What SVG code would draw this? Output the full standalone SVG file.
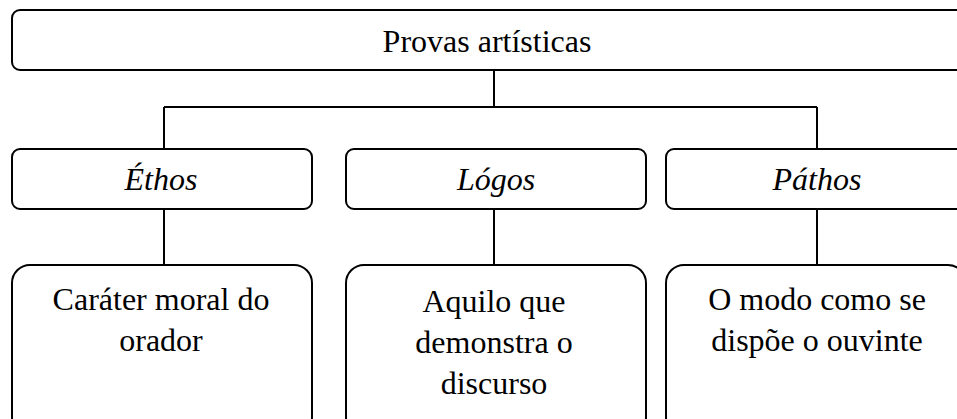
<svg xmlns="http://www.w3.org/2000/svg" width="957" height="419" viewBox="0 0 957 419">
<style>
.box{fill:#fff;stroke:#000;stroke-width:2}
.ln{fill:none;stroke:#000;stroke-width:2}
text{font-family:"Liberation Serif","Times New Roman",serif;font-size:32px;fill:#000;text-anchor:middle}
.it{font-style:italic}
</style>
<rect width="957" height="419" fill="#fff"/>
<g id="connectors">
<path class="ln" d="M494 70 V107 M164 107 H817 M164 107 V149 M817 107 V149 M164 209 V265 M494 209 V265 M817 209 V265"/>
</g>
<g id="root">
<rect class="box" x="12" y="10" width="960" height="60" rx="8"/>
<text x="487" y="52">Provas artísticas</text>
</g>
<g id="ethos">
<rect class="box" x="12" y="149" width="300" height="60" rx="8"/>
<text class="it" x="161" y="190">Éthos</text>
</g>
<g id="logos">
<rect class="box" x="346" y="149" width="300" height="60" rx="8"/>
<text class="it" x="496" y="190">Lógos</text>
</g>
<g id="pathos">
<rect class="box" x="666" y="149" width="310" height="60" rx="8"/>
<text class="it" x="817" y="190">Páthos</text>
</g>
<g id="ethos-desc">
<rect class="box" x="12" y="265" width="300" height="170" rx="18"/>
<text x="161" y="310">Caráter moral do</text>
<text x="161" y="351">orador</text>
</g>
<g id="logos-desc">
<rect class="box" x="346" y="265" width="300" height="170" rx="18"/>
<text x="494" y="312">Aquilo que</text>
<text x="494" y="353">demonstra o</text>
<text x="494" y="394">discurso</text>
</g>
<g id="pathos-desc">
<rect class="box" x="666" y="265" width="300" height="170" rx="18"/>
<text x="817" y="310">O modo como se</text>
<text x="817" y="351">dispõe o ouvinte</text>
</g>
</svg>
